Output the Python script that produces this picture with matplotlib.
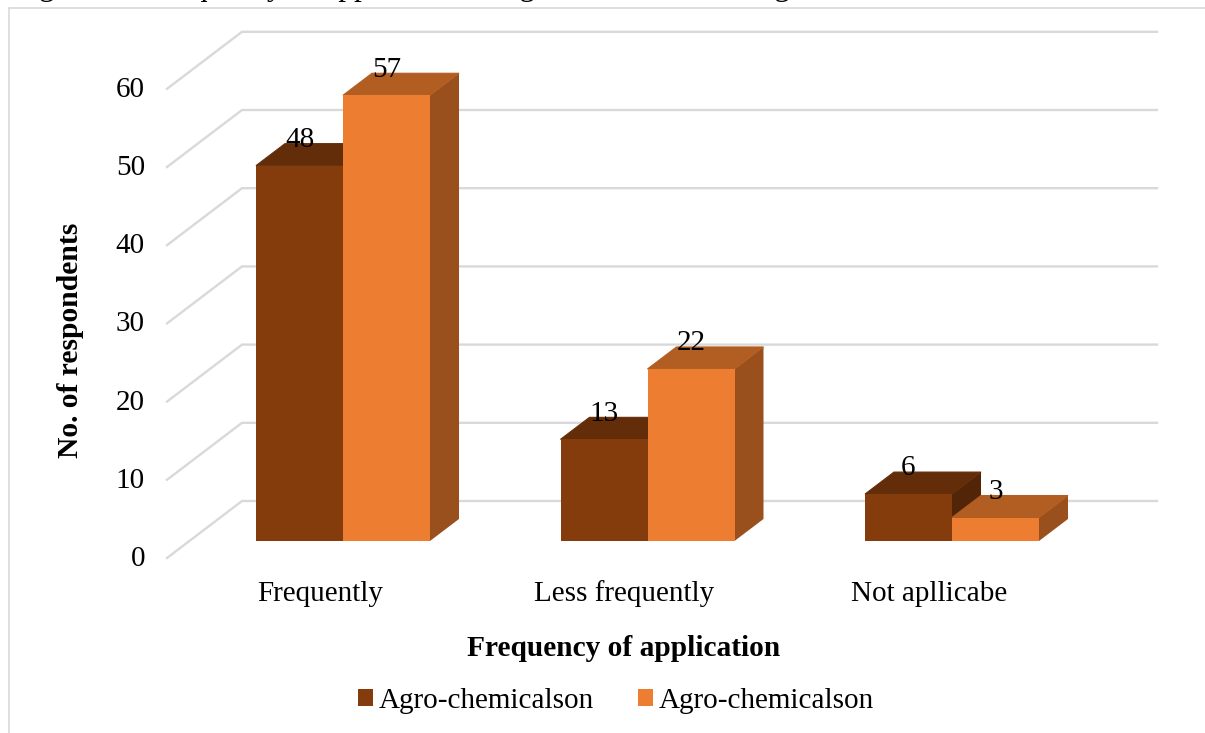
import matplotlib
matplotlib.use("Agg")
import matplotlib.pyplot as plt
from matplotlib.patches import Patch, Polygon

plt.rcParams['font.family'] = ['Liberation Serif', 'DejaVu Serif']

# --- data ---
categories = ['Frequently', 'Less frequently', 'Not apllicabe']
series_names = ['Agro-chemicalson', 'Agro-chemicalson']
series_a = [48, 13, 6]
series_b = [57, 22, 3]
y_ticks = [0, 10, 20, 30, 40, 50, 60]
caption = 'Figure 10: Frequency of application of agro-chemicals among the farmers'

# --- colours: front, top, side ---
colors_a = ('#843C0C', '#632D09', '#522508')
colors_b = ('#ED7D31', '#B25E23', '#9A501C')
grid_color = '#D9D9D9'

W, H = 1205, 733
PX_CAT = 304.5   # pixels between categories
PX_VAL = 7.82    # pixels per respondent
X0, Y0 = 343, 541  # pixel of first category centre / bar base

BAR_W = 87 / PX_CAT
DX = 29 / PX_CAT     # bar depth
DY = 22 / PX_VAL

fig = plt.figure(figsize=(W / 100, H / 100), dpi=100)
ax = fig.add_axes([0, 0, 1, 1])
ax.set_xlim(-X0 / PX_CAT, (W - X0) / PX_CAT)
ax.set_ylim((Y0 - H) / PX_VAL, Y0 / PX_VAL)
ax.axis('off')

# caption line runs off the top edge, only its descenders stay in view
ax.text((13 - X0) / PX_CAT, (Y0 + 5) / PX_VAL, caption, ha='left', va='baseline',
        fontsize=22.5, color='#000000')

# chart frame, only top and left edges stay in view
ax.plot([(9 - X0) / PX_CAT] * 2, [(Y0 - H) / PX_VAL, (Y0 - 8) / PX_VAL],
        color=grid_color, lw=1.2, zorder=1)
ax.plot([(9 - X0) / PX_CAT, (W - X0) / PX_CAT], [(Y0 - 8) / PX_VAL] * 2,
        color=grid_color, lw=1.2, zorder=1)

# gridlines: slanted side wall plus back wall
wall_front_x, wall_back_x, wall_end_x = -176 / PX_CAT, -101 / PX_CAT, 814 / PX_CAT
wall_front_y, wall_back_y = -17 / PX_VAL, 40 / PX_VAL
for v in y_ticks:
    ax.plot([wall_front_x, wall_back_x, wall_end_x],
            [v + wall_front_y, v + wall_back_y, v + wall_back_y],
            color=grid_color, lw=1.7, zorder=1, solid_joinstyle='miter')
    ax.text(-198 / PX_CAT, v + wall_front_y - 1 / PX_VAL, str(v), ha='right', va='center',
            fontsize=21, color='#000000')


def draw_bar(x, v, colors, z):
    x1 = x + BAR_W
    ax.bar(x, v, width=BAR_W, align='edge', color=colors[0], zorder=z + 0.2, linewidth=0)
    ax.add_patch(Polygon([(x, v), (x1, v), (x1 + DX, v + DY), (x + DX, v + DY)],
                         facecolor=colors[1], edgecolor=colors[1], linewidth=0.8, zorder=z + 0.1))
    ax.add_patch(Polygon([(x1, 0), (x1 + DX, DY), (x1 + DX, v + DY), (x1, v)],
                         facecolor=colors[2], edgecolor='none', zorder=z))


for i in range(len(categories)):
    draw_bar(i - BAR_W, series_a[i], colors_a, 2)
    draw_bar(i, series_b[i], colors_b, 3)

# value labels sit above each bar front
for i in range(len(categories)):
    for x, v in ((i - BAR_W / 2, series_a[i]), (i + BAR_W / 2, series_b[i])):
        ax.annotate(str(v), (x, v), xytext=(0, 18.5), textcoords='offset points',
                    ha='center', va='center', fontsize=21, color='#000000', zorder=6)

for i, name in enumerate(categories):
    ax.text(i - 23 / PX_CAT, -53 / PX_VAL, name, ha='center', va='center',
            fontsize=21, color='#000000')

ax.text(281 / PX_CAT, -107 / PX_VAL, 'Frequency of application', ha='center', va='center',
        fontsize=21.2, fontweight='bold', color='#000000')
ax.text(-272 / PX_CAT, 201 / PX_VAL, 'No. of respondents', rotation=90, ha='center', va='center',
        fontsize=21.3, fontweight='bold', color='#000000')

handles = [Patch(facecolor=colors_a[0], label=series_names[0]),
           Patch(facecolor=colors_b[0], label=series_names[1])]
ax.legend(handles=handles, ncol=2, frameon=False, fontsize=21, loc='center',
          bbox_to_anchor=(616 / W, 1 - 701 / H), handlelength=0.52, handleheight=0.52,
          handletextpad=0.2, columnspacing=1.48, borderpad=0, labelcolor='#000000')

fig.savefig('out.png', dpi=100)
